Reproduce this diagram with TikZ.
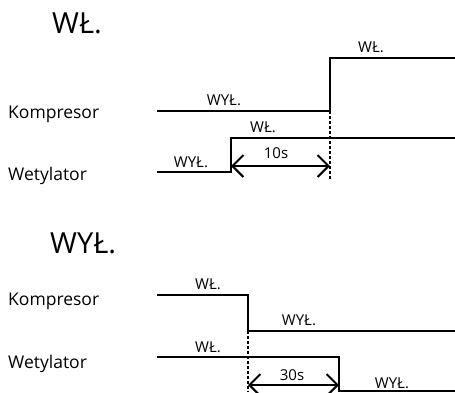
\documentclass[tikz,border=0pt]{standalone}
\usepackage{fontspec}
\setmainfont{Open Sans}
\usetikzlibrary{arrows.meta,positioning}

\begin{document}
\begin{tikzpicture}[x=1pt, y=-1pt,
    signal/.style={line width=2.2pt},
    marker/.style={line width=1.6pt, dash pattern=on 3pt off 2pt},
    delay/.style={line width=2pt, {Straight Barb[length=11pt,width=22pt]}-{Straight Barb[length=11pt,width=22pt]}},
    state/.style={font=\fontsize{15}{17}\selectfont, inner sep=0pt, anchor=base},
    device/.style={font=\fontsize{17.5}{20}\selectfont, inner sep=0pt, anchor=base west},
    heading/.style={font=\fontsize{29}{34}\selectfont, inner sep=0pt, anchor=base west},
]
\useasboundingbox (0,0) rectangle (455,392);

% --- tryb WŁ. ---
\node[heading] (onTitle) at (52,33) {WŁ.};
\node[device] (onKomp) at (8,118) {Kompresor};
\node[device] (onWent) at (8,180) {Wetylator};

\coordinate (onK1) at (157,111);
\coordinate (onK2) at (330,111);
\coordinate (onK3) at (330,58);
\coordinate (onK4) at (455,58);
\draw[signal] (onK1) -- (onK2) -- (onK3) -- (onK4);

\coordinate (onW1) at (157,172);
\coordinate (onW2) at (231,172);
\coordinate (onW3) at (231,138);
\coordinate (onW4) at (455,138);
\draw[signal] (onW1) -- (onW2) -- (onW3) -- (onW4);

\coordinate (onMark) at (330,180);
\draw[marker] (onK2) -- (onMark);
\coordinate (onA1) at (231,166);
\coordinate (onA2) at (330,166);
\draw[delay] (onA1) -- (onA2);

\node[state] (onKoff) at (224,105) {WYŁ.};
\node[state] (onKon) at (371,52) {WŁ.};
\node[state] (onWoff) at (191,167) {WYŁ.};
\node[state] (onWon) at (263,132) {WŁ.};
\node[state] (onDelay) at (276,158) {10s};

% --- tryb WYŁ. ---
\node[heading] (offTitle) at (50,253) {WYŁ.};
\node[device] (offKomp) at (8,305) {Kompresor};
\node[device] (offWent) at (8,368) {Wetylator};

\coordinate (offK1) at (157,295);
\coordinate (offK2) at (248,295);
\coordinate (offK3) at (248,331);
\coordinate (offK4) at (455,331);
\draw[signal] (offK1) -- (offK2) -- (offK3) -- (offK4);

\coordinate (offW1) at (157,357);
\coordinate (offW2) at (339,357);
\coordinate (offW3) at (339,391);
\coordinate (offW4) at (455,391);
\draw[signal] (offW1) -- (offW2) -- (offW3) -- (offW4);

\coordinate (offMark) at (248,392);
\draw[marker] (offK3) -- (offMark);
\coordinate (offA1) at (248,385);
\coordinate (offA2) at (339,385);
\draw[delay] (offA1) -- (offA2);

\node[state] (offKon) at (208,289) {WŁ.};
\node[state] (offKoff) at (299,325) {WYŁ.};
\node[state] (offWon) at (208,352) {WŁ.};
\node[state] (offWoff) at (392,388) {WYŁ.};
\node[state] (offDelay) at (292,380) {30s};
\end{tikzpicture}
\end{document}
